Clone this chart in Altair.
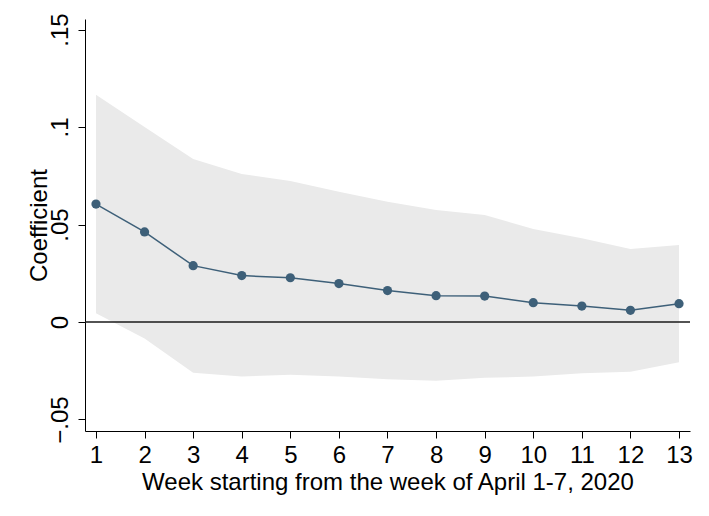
import altair as alt
import pandas as pd

weeks = [1, 2, 3, 4, 5, 6, 7, 8, 9, 10, 11, 12, 13]
coef = [0.0605, 0.0462, 0.0289, 0.0238, 0.0227, 0.0197, 0.0161, 0.0135, 0.0133, 0.0099, 0.0082, 0.0060, 0.0094]
upper = [0.1166, 0.1000, 0.0836, 0.0759, 0.0723, 0.0668, 0.0617, 0.0574, 0.0549, 0.0477, 0.0429, 0.0374, 0.0395]
lower = [0.0045, -0.0084, -0.0260, -0.0280, -0.0270, -0.0280, -0.0294, -0.0301, -0.0286, -0.0280, -0.0263, -0.0255, -0.0207]
y_ticks = [-0.05, 0, 0.05, 0.1, 0.15]

df = pd.DataFrame({"week": weeks, "coef": coef, "upper": upper, "lower": lower})
zero_df = pd.DataFrame({"y": [0]})

FONT = "Liberation Sans"
FS = 24
x_scale = alt.Scale(domain=[0.774, 13.226], nice=False, zero=False)
y_scale = alt.Scale(domain=[-0.0559, 0.1554], nice=False, zero=False)

x_axis = alt.Axis(
    values=weeks, title="Week starting from the week of April 1-7, 2020",
    grid=False, domainColor="#000000", tickColor="#000000", tickSize=7,
    labelFontSize=FS, labelFont=FONT, labelColor="#000000", labelPadding=5,
    titleFontSize=FS, titleFont=FONT, titleFontWeight="normal", titleColor="#000000",
    titlePadding=3, labelFlush=False,
)
y_axis = alt.Axis(
    values=y_ticks, title="Coefficient", format=".2~f",
    labelExpr="replace(datum.label, '0.', '.')",
    grid=False, domainColor="#000000", tickColor="#000000", tickSize=7,
    labelAngle=270, labelAlign="center", labelBaseline="bottom",
    labelFontSize=FS, labelFont=FONT, labelColor="#000000", labelPadding=6,
    titleFontSize=FS, titleFont=FONT, titleFontWeight="normal", titleColor="#000000",
    titlePadding=-3, labelFlush=False,
)

band = alt.Chart(df).mark_area(color="#eaeaea", opacity=1).encode(
    x=alt.X("week:Q", scale=x_scale, axis=x_axis),
    y=alt.Y("lower:Q", scale=y_scale, axis=y_axis),
    y2="upper:Q",
)
zero = alt.Chart(zero_df).mark_rule(color="#1a1a1a", strokeWidth=1.3).encode(
    y=alt.Y("y:Q", scale=y_scale),
    x=alt.value(0), x2=alt.value(605),
)
line = alt.Chart(df).mark_line(color="#3e6079", strokeWidth=1.5).encode(
    x=alt.X("week:Q", scale=x_scale),
    y=alt.Y("coef:Q", scale=y_scale),
)
pts = alt.Chart(df).mark_circle(color="#3e6079", opacity=1, size=85).encode(
    x=alt.X("week:Q", scale=x_scale),
    y=alt.Y("coef:Q", scale=y_scale),
)

chart = alt.layer(band, zero, line, pts).properties(
    width=605, height=412,
    autosize=alt.AutoSizeParams(type="none"),
    padding={"left": 77, "top": 11, "right": 10, "bottom": 70},
    background="white",
).configure_view(stroke=None)

chart.save("out.html", embed_options={"renderer": "svg", "actions": False})
